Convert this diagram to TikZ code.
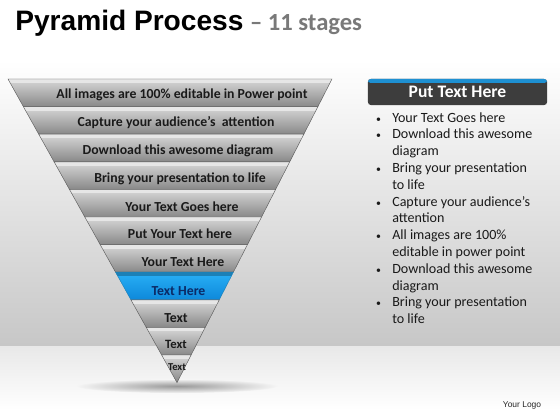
\documentclass[tikz,border=0pt]{standalone}
\usepackage{fontspec}
\setmainfont{Carlito}
\newfontfamily\arialfont{Liberation Sans}
\usetikzlibrary{calc}

\definecolor{slabtop}{HTML}{E6E6E6}
\definecolor{slabhi}{HTML}{D8D8D8}
\definecolor{slablo}{HTML}{888888}
\definecolor{bluehi}{HTML}{29B0F6}
\definecolor{bluelo}{HTML}{0D88DA}
\definecolor{bluetop}{HTML}{1C80B6}
\definecolor{navy}{HTML}{0B2A66}
\definecolor{hdgray}{HTML}{3D3D3D}
\definecolor{hdblue}{HTML}{1E90D2}
\definecolor{txt}{HTML}{1A1A1A}

\newcommand{\dotitem}{\hspace{2pt}{\fontsize{7}{8}\selectfont\textbullet}}

\begin{document}
\begin{tikzpicture}[x=0.025cm, y=-0.025cm,
  slab/.style={top color=slabhi, bottom color=slablo, draw=gray!70!black, line width=0.3pt,
    path picture={\fill[slabtop] (path picture bounding box.north west) rectangle ([yshift=-0.1cm]path picture bounding box.north east);}},
  hislab/.style={top color=bluehi, bottom color=bluelo, draw=bluetop, line width=0.3pt,
    path picture={\fill[bluetop] (path picture bounding box.north west) rectangle ([yshift=-0.1cm]path picture bounding box.north east);}},
  lbl/.style={font=\bfseries\fontsize{9.8}{12}\selectfont, text=txt, inner sep=0pt},
  hdbox/.style={fill=hdgray, rounded corners=2pt, minimum width=4.475cm, minimum height=0.65cm,
    text=white, font=\bfseries\fontsize{12.5}{14}\selectfont,
    path picture={\fill[hdblue] (path picture bounding box.north west) rectangle ([yshift=-0.1cm]path picture bounding box.north east);}}]

\useasboundingbox (0,0) rectangle (560,420);
\fill[white] (0,0) rectangle (560,420);
\fill[top color=white, bottom color=gray!44] (0,60) rectangle (560,346);
\fill[top color=gray!18, bottom color=white] (0,346) rectangle (560,410);

\node[name=ttl, anchor=base west, inner sep=0pt, font=\arialfont\bfseries\fontsize{20}{24}\selectfont] at (15,31) {Pyramid Process};
\node[name=sub, anchor=base west, inner sep=0pt, xshift=0.15cm, text=gray!95!black, font=\bfseries\fontsize{17.5}{20}\selectfont] at (ttl.base east) {– 11 stages};

\shade[inner color=gray!80, outer color=gray!8] (177,386) ellipse [x radius=100, y radius=7];

\coordinate (tl) at (8,79);
\coordinate (tr) at (332,79);
\coordinate (ap) at (177,382.6);

\path[slab] ($(tl)!0/11!(ap)$) -- ($(tr)!0/11!(ap)$) -- ($(tr)!1/11!(ap)$) -- ($(tl)!1/11!(ap)$) -- cycle;
\path[slab] ($(tl)!1/11!(ap)$) -- ($(tr)!1/11!(ap)$) -- ($(tr)!2/11!(ap)$) -- ($(tl)!2/11!(ap)$) -- cycle;
\path[slab] ($(tl)!2/11!(ap)$) -- ($(tr)!2/11!(ap)$) -- ($(tr)!3/11!(ap)$) -- ($(tl)!3/11!(ap)$) -- cycle;
\path[slab] ($(tl)!3/11!(ap)$) -- ($(tr)!3/11!(ap)$) -- ($(tr)!4/11!(ap)$) -- ($(tl)!4/11!(ap)$) -- cycle;
\path[slab] ($(tl)!4/11!(ap)$) -- ($(tr)!4/11!(ap)$) -- ($(tr)!5/11!(ap)$) -- ($(tl)!5/11!(ap)$) -- cycle;
\path[slab] ($(tl)!5/11!(ap)$) -- ($(tr)!5/11!(ap)$) -- ($(tr)!6/11!(ap)$) -- ($(tl)!6/11!(ap)$) -- cycle;
\path[slab] ($(tl)!6/11!(ap)$) -- ($(tr)!6/11!(ap)$) -- ($(tr)!7/11!(ap)$) -- ($(tl)!7/11!(ap)$) -- cycle;
\path[hislab] ($(tl)!7/11!(ap)$) -- ($(tr)!7/11!(ap)$) -- ($(tr)!8/11!(ap)$) -- ($(tl)!8/11!(ap)$) -- cycle;
\path[slab] ($(tl)!8/11!(ap)$) -- ($(tr)!8/11!(ap)$) -- ($(tr)!9/11!(ap)$) -- ($(tl)!9/11!(ap)$) -- cycle;
\path[slab] ($(tl)!9/11!(ap)$) -- ($(tr)!9/11!(ap)$) -- ($(tr)!10/11!(ap)$) -- ($(tl)!10/11!(ap)$) -- cycle;
\path[slab] ($(tl)!10/11!(ap)$) -- ($(tr)!10/11!(ap)$) -- (ap) -- cycle;

\node[name=t1, lbl] at (182,95) {All images are 100\% editable in Power point};
\node[name=t2, lbl] at (176,123) {Capture your audience’s~ attention};
\node[name=t3, lbl] at (178,151) {Download this awesome diagram};
\node[name=t4, lbl] at (180,179) {Bring your presentation to life};
\node[name=t5, lbl] at (182,207) {Your Text Goes here};
\node[name=t6, lbl] at (180,234) {Put Your Text here};
\node[name=t7, lbl] at (183,262) {Your Text Here};
\node[name=t8, lbl, text=navy] at (178.5,291) {Text Here};
\node[name=t9, lbl] at (176,318) {Text};
\node[name=t10, lbl, font=\bfseries\fontsize{9}{11}\selectfont] at (176,344) {Text};
\node[name=t11, lbl, font=\bfseries\fontsize{7.5}{9}\selectfont] at (177,367) {Text};

\node[name=hd, hdbox] at (457.5,92) {Put Text Here};

\node[name=lst, anchor=north west, inner sep=0pt, text=txt, font=\fontsize{10}{11.95}\selectfont] at (373,110) {%
\begin{tabular}{@{}p{13.5pt}@{}l@{}}
\dotitem & Your Text Goes here\\
\dotitem & Download this awesome\\
 & diagram\\
\dotitem & Bring your presentation\\
 & to life\\
\dotitem & Capture your audience’s\\
 & attention\\
\dotitem & All images are 100\%\\
 & editable in power point\\
\dotitem & Download this awesome\\
 & diagram\\
\dotitem & Bring your presentation\\
 & to life
\end{tabular}};

\node[name=logo, text=gray!30!black, font=\arialfont\fontsize{6}{7}\selectfont] at (522,405) {Your Logo};
\end{tikzpicture}
\end{document}
